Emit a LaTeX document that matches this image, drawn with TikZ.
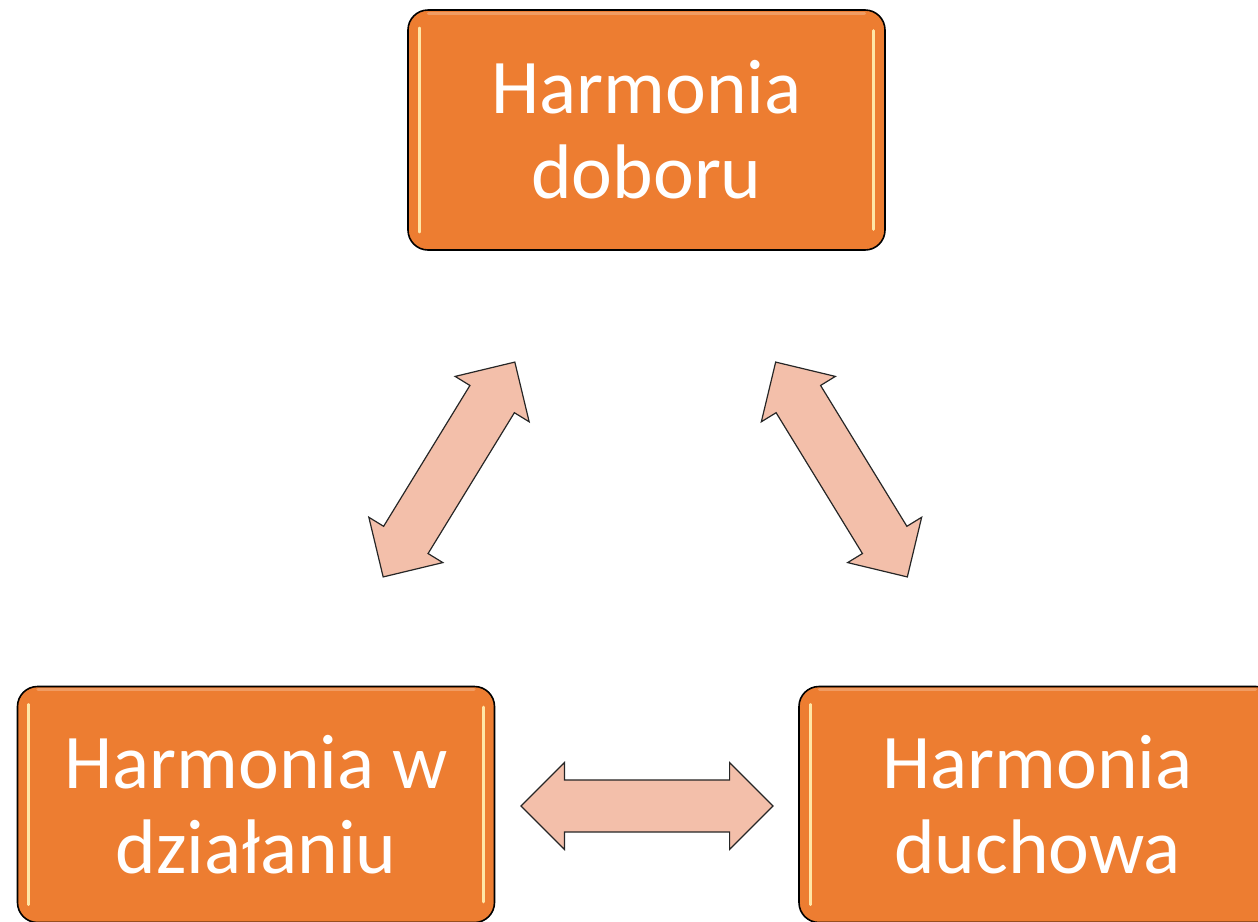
\documentclass[tikz,border=0pt]{standalone}
\usepackage{fontspec}
\setmainfont{Carlito}
\usetikzlibrary{shapes.arrows}
\definecolor{boxorange}{HTML}{ED7D31}
\definecolor{arrowfill}{HTML}{F3BFAA}
\definecolor{gloss}{HTML}{FFE6A6}
\begin{document}
\begin{tikzpicture}[x=0.75pt,y=-0.75pt,
  hbox/.style={draw=black, line width=1.2pt, fill=boxorange, rounded corners=15pt,
    minimum width=357.75pt, minimum height=180pt, inner sep=0pt, align=center,
    text=white, font=\fontsize{58}{63.5}\selectfont},
  fatarrow/.style={double arrow, draw=black!85, line width=0.9pt, fill=arrowfill,
    minimum height=189pt, inner xsep=0pt, inner ysep=19.1pt,
    double arrow head extend=13pt, double arrow tip angle=90},
  glossline/.style={gloss, line width=2pt, line cap=round},
  topband/.style={boxorange!60!white, line width=2.5pt, line cap=round, opacity=0.6}
]
\useasboundingbox (0,0) rectangle (1258,922);
\clip (0,0) rectangle (1258,922);
\node[hbox] (top) at (646.5,130) {Harmonia\\doboru};
\node[hbox, minimum height=177pt] (left) at (256,804.5) {Harmonia w\\działaniu};
\node[hbox, minimum height=177pt] (right) at (1037.5,804.5) {Harmonia\\duchowa};
\foreach \b in {top,left,right}{
  \draw[glossline] ([xshift=9pt,yshift=-14pt]\b.north west) -- ([xshift=9pt,yshift=14pt]\b.south west);
  \draw[glossline] ([xshift=-9pt,yshift=-16pt]\b.north east) -- ([xshift=-9pt,yshift=16pt]\b.south east);
  \draw[topband] ([xshift=16pt,yshift=-3pt]\b.north west) -- ([xshift=-16pt,yshift=-3pt]\b.north east);
}
\node[fatarrow, rotate=58.5] (a1) at (449,469.5) {};
\node[fatarrow, rotate=-58.5] (a2) at (841.5,469.5) {};
\node[fatarrow] (a3) at (647,806) {};
\end{tikzpicture}
\end{document}
